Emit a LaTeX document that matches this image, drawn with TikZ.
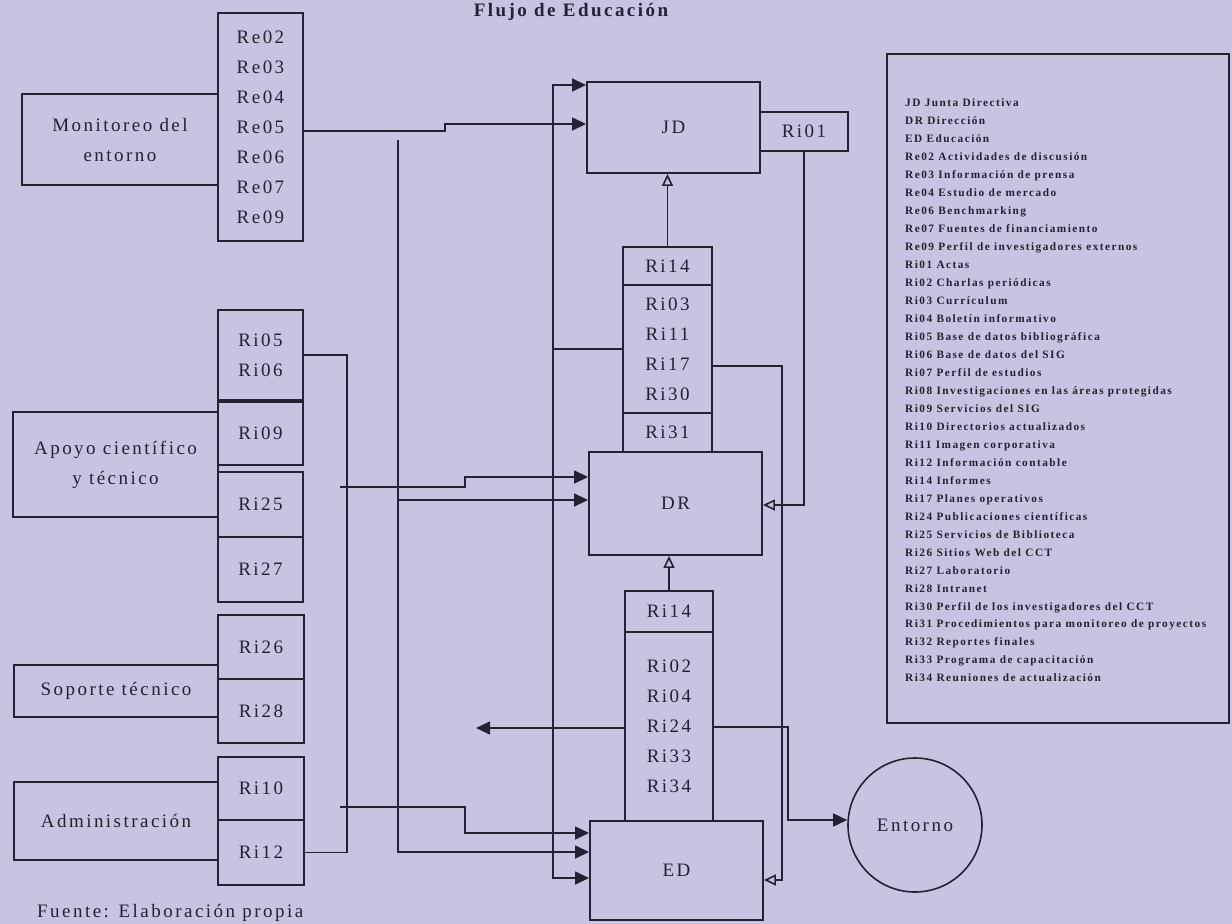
\documentclass[tikz,border=0pt]{standalone}
\usepackage{fontspec}
\setmainfont{Liberation Serif}[LetterSpace=13]
\usetikzlibrary{arrows.meta}
\definecolor{paper}{RGB}{199,196,226}
\definecolor{ink}{RGB}{34,34,50}
\begin{document}
\begin{tikzpicture}[x=1bp,y=-1bp,
  box/.style={draw=ink,line width=1.9bp,fill=paper,inner sep=0pt,
    font=\fontsize{19bp}{30bp}\selectfont,text=ink,align=center},
  conn/.style={draw=ink,line width=1.6bp},
  arr/.style={conn,-{Triangle[length=14bp,width=13bp]}},
  oarr/.style={conn,-{Triangle[open,length=12bp,width=11bp,fill=paper]}},
  lbl/.style={text=ink,inner sep=0pt}
]
\fill[paper] (0,0) rectangle (1232,924);
\useasboundingbox (0,0) rectangle (1232,924);

% title and source
\node[lbl,anchor=base,font=\bfseries\fontsize{19bp}{22bp}\selectfont] (title) at (571,16) {Flujo de Educación};
\node[lbl,anchor=base west,font=\fontsize{19bp}{22bp}\selectfont] (fuente) at (37,917) {Fuente: Elaboración propia};

% left process boxes
\node[box,minimum width=196bp,minimum height=91bp] (mon) at (120,139.5) {Monitoreo del\\entorno};
\node[box,minimum width=205bp,minimum height=105bp] (apoyo) at (115.5,464.5) {Apoyo científico\\y técnico};
\node[box,minimum width=204bp,minimum height=52bp] (soporte) at (116,691) {Soporte técnico};
\node[box,minimum width=204bp,minimum height=78bp] (admin) at (116,821) {Administración};

% resource boxes
\node[box,minimum width=85bp,minimum height=228bp] (re) at (260.5,127) {Re02\\Re03\\Re04\\Re05\\Re06\\Re07\\Re09};
\node[box,minimum width=85bp,minimum height=90bp] (s1) at (260.5,355) {Ri05\\Ri06};
\node[box,minimum width=85bp,minimum height=63bp] (s2) at (260.5,433.5) {Ri09};
\node[box,minimum width=85bp,minimum height=65bp] (s3) at (260.5,504.5) {Ri25};
\node[box,minimum width=85bp,minimum height=65bp] (s4) at (260.5,569.5) {Ri27};
\node[box,minimum width=86bp,minimum height=64bp] (s5) at (261,647) {Ri26};
\node[box,minimum width=86bp,minimum height=64bp] (s6) at (261,711) {Ri28};
\node[box,minimum width=86bp,minimum height=63bp] (s7) at (261,788.5) {Ri10};
\node[box,minimum width=86bp,minimum height=65bp] (s8) at (261,852.5) {Ri12};

% central column
\node[box,minimum width=173bp,minimum height=91bp] (jd) at (673.5,127.5) {JD};
\node[box,minimum width=88bp,minimum height=39bp] (ri01) at (804,131.5) {Ri01};
\node[box,minimum width=89bp,minimum height=38bp] (u14) at (667.5,266) {Ri14};
\node[box,minimum width=89bp,minimum height=128bp] (u03) at (667.5,349) {Ri03\\Ri11\\Ri17\\Ri30};
\node[box,minimum width=89bp,minimum height=39bp] (u31) at (667.5,432.5) {Ri31};
\node[box,minimum width=173bp,minimum height=103bp] (dr) at (675.5,503.5) {DR};
\node[box,minimum width=88bp,minimum height=41bp] (l14) at (669,611.5) {Ri14};
\node[box,minimum width=88bp,minimum height=189bp] (l02) at (669,726.5) {Ri02\\Ri04\\Ri24\\Ri33\\Ri34};
\node[box,minimum width=173bp,minimum height=99bp] (ed) at (676.5,870.5) {ED};
\node[box,circle,line width=1.6bp,minimum size=134bp] (entorno) at (915,825) {Entorno};

% legend
\node[draw=ink,line width=1.9bp,minimum width=342bp,minimum height=669bp,inner sep=0pt] (legend) at (1058,388.5) {};
\node[lbl,anchor=west,align=left,font=\bfseries\fontsize{11.3bp}{17.97bp}\selectfont] (legtext) at (905,390.5) {%
JD Junta Directiva\\
DR Dirección\\
ED Educación\\
Re02 Actividades de discusión\\
Re03 Información de prensa\\
Re04 Estudio de mercado\\
Re06 Benchmarking\\
Re07 Fuentes de financiamiento\\
Re09 Perfil de investigadores externos\\
Ri01 Actas\\
Ri02 Charlas periódicas\\
Ri03 Currículum\\
Ri04 Boletín informativo\\
Ri05 Base de datos bibliográfica\\
Ri06 Base de datos del SIG\\
Ri07 Perfil de estudios\\
Ri08 Investigaciones en las áreas protegidas\\
Ri09 Servicios del SIG\\
Ri10 Directorios actualizados\\
Ri11 Imagen corporativa\\
Ri12 Información contable\\
Ri14 Informes\\
Ri17 Planes operativos\\
Ri24 Publicaciones científicas\\
Ri25 Servicios de Biblioteca\\
Ri26 Sitios Web del CCT\\
Ri27 Laboratorio\\
Ri28 Intranet\\
Ri30 Perfil de los investigadores del CCT\\
Ri31 Procedimientos para monitoreo de proyectos\\
Ri32 Reportes finales\\
Ri33 Programa de capacitación\\
Ri34 Reuniones de actualización};

% connectors
\draw[arr] (re.east |- 0,131) -- (445,131) -- (445,124) -- (jd.west |- 0,124);

\coordinate (b1) at (398,140);
\coordinate (b1m) at (398,500);
\draw[arr] (b1) |- (ed.west |- 0,852);
\draw[arr] (b1m) -- (dr.west |- 0,500);

\draw[conn] (s1.east) -| (347,852.5) -- (s8.east);
\coordinate (b2a) at (340,487);
\coordinate (b2b) at (340,807);
\draw[arr] (b2a) -- (465,487) -- (465,477) -- (dr.west |- 0,477);
\draw[arr] (b2b) -- (465,807) -- (465,833) -- (ed.west |- 0,833);

\coordinate (b3) at (553,349);
\draw[conn] (u03.west) -- (b3);
\draw[arr] (b3) |- (jd.west |- 0,85);
\draw[arr] (b3) |- (ed.west |- 0,878);

\coordinate (out24) at (476,728);
\draw[arr] (l02.west |- 0,728) -- (out24);
\draw[arr] (l02.east |- 0,727) -| (788,820) -- (entorno.west |- 0,820);

\draw[oarr] (u03.east |- 0,366) -| (782,880) -- (ed.east |- 0,880);
\draw[oarr] (ri01.south) |- (dr.east |- 0,505);
\draw[oarr] (u14.north) -- (u14.north |- jd.south);
\draw[oarr] (l14.north) -- (l14.north |- dr.south);
\end{tikzpicture}
\end{document}
